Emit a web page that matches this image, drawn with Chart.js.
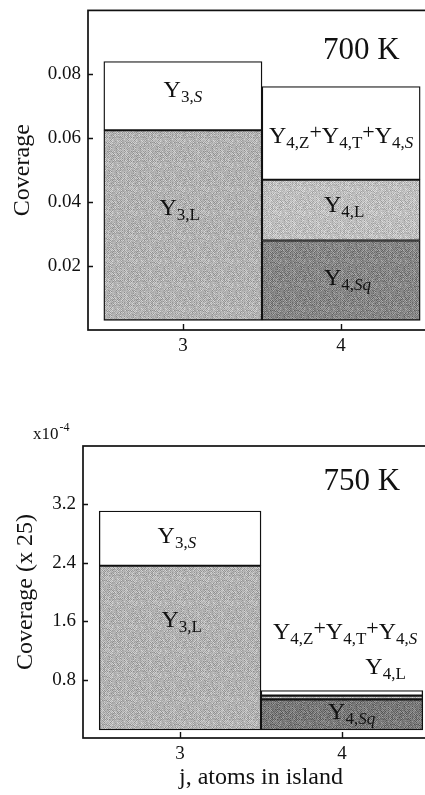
<!DOCTYPE html>
<html>
<head>
<meta charset="utf-8">
<script src="https://cdn.jsdelivr.net/npm/chart.js@4/dist/chart.umd.min.js"></script>
<style>
  html, body { margin: 0; padding: 0; background: #fff; width: 425px; height: 795px; overflow: hidden; }
  .panel { position: absolute; left: 0; width: 445px; }
  #p700 { top: 0; height: 378px; }
  #p750 { top: 390px; height: 405px; }
</style>
</head>
<body>
<div class="panel" id="p700"><canvas id="c700"></canvas></div>
<div class="panel" id="p750"><canvas id="c750"></canvas></div>
<script>
// island size j (atoms in island)
const atoms = [3, 4];

// y tick values and their printed labels
const yTicks700 = [0.02, 0.04, 0.06, 0.08];
const yLabels700 = ['0.02', '0.04', '0.06', '0.08'];
const yTicks750 = [0.8, 1.6, 2.4, 3.2];
const yLabels750 = ['0.8', '1.6', '2.4', '3.2'];

// 700 K: floor of the columns and the top of each stacked band
const base700 = 0.003;
const j3Tops700 = [0.0625, 0.084];          // Y3,L  Y3,S
const j4Tops700 = [0.028, 0.047, 0.0762];   // Y4,Sq  Y4,L  Y4,Z+Y4,T+Y4,S

// 750 K (coverage x 25, in units of 1e-4)
const base750 = 0.11;
const j3Tops750 = [2.36, 3.11];
const j4Tops750 = [0.53, 0.58, 0.65];

const SERIF = "'Liberation Serif', 'DejaVu Serif', serif";
const INK = '#111111';

// fine grainy fill, built from a fixed integer hash so it is the same every run
function grain(level, amp) {
  const n = 24;
  const c = document.createElement('canvas');
  c.width = n; c.height = n;
  const g = c.getContext('2d');
  const img = g.createImageData(n, n);
  for (let y = 0; y < n; y++) {
    for (let x = 0; x < n; x++) {
      let h = (x * 374761393 + y * 668265263) | 0;
      h = Math.imul(h ^ (h >>> 13), 1274126177);
      h = (h ^ (h >>> 16)) & 255;
      const checker = ((x + y) & 1) ? 1 : -1;
      const v = Math.max(0, Math.min(255, Math.round(level + (h / 255 - 0.5) * amp + checker * amp * 0.35)));
      const i = (y * n + x) * 4;
      img.data[i] = v; img.data[i + 1] = v; img.data[i + 2] = v; img.data[i + 3] = 255;
    }
  }
  g.putImageData(img, 0, 0);
  return g.createPattern(c, 'repeat');
}

const fillLight = grain(178, 46);
const fillLight4 = grain(190, 44);
const fillDark = grain(134, 50);
const fillDark750 = grain(120, 50);
const WHITE = '#ffffff';

function band(label, x, lo, hi, fill) {
  return {
    label,
    data: [{ x, y: [lo, hi] }],
    backgroundColor: fill,
    borderColor: INK,
    borderWidth: 1.4,
    borderSkipped: false,
    grouped: false,
    barPercentage: 1,
    categoryPercentage: 1
  };
}

function columns(base, j3, j4, dark, light4) {
  return [
    band('Y3,L', atoms[0], base, j3[0], fillLight),
    band('Y3,S', atoms[0], j3[0], j3[1], WHITE),
    band('Y4,Sq', atoms[1], base, j4[0], dark),
    band('Y4,L', atoms[1], j4[0], j4[1], light4),
    band('Y4,Z+Y4,T+Y4,S', atoms[1], j4[1], j4[2], WHITE)
  ];
}

// rich labels: Y with a two-part subscript
function Ysub(idx, kind) {
  return [
    { t: 'Y' },
    { t: idx + ',', sub: true },
    { t: kind, sub: true, it: /S/.test(kind) }
  ];
}
const plus = { t: '+', plus: true };
const yztsLabel = [].concat(Ysub('4', 'Z'), [plus], Ysub('4', 'T'), [plus], Ysub('4', 'S'));

function partFont(p) {
  if (p.sub) return (p.it ? 'italic ' : '') + '17px ' + SERIF;
  if (p.plus) return '22px ' + SERIF;
  return '24px ' + SERIF;
}

function drawRich(ctx, parts, x, y, align) {
  let w = 0;
  parts.forEach(p => { ctx.font = partFont(p); p.w = ctx.measureText(p.t).width; w += p.w; });
  let cx = align === 'right' ? x - w : x - w / 2;
  ctx.textAlign = 'left';
  ctx.textBaseline = 'alphabetic';
  parts.forEach(p => {
    ctx.font = partFont(p);
    const dy = p.sub ? 5 : (p.plus ? -4 : 0);
    ctx.fillText(p.t, cx, y + dy);
    cx += p.w;
  });
}

// frame round the plot, inward tick marks, band names and the temperature
const decor = {
  id: 'decor',
  afterDatasetsDraw(chart, args, opts) {
    const { ctx, chartArea: a, scales: { x, y } } = chart;
    ctx.save();
    ctx.strokeStyle = INK;
    ctx.lineWidth = 1.7;
    ctx.strokeRect(a.left, a.top, a.right - a.left, a.bottom - a.top);
    ctx.lineWidth = 1.4;
    ctx.beginPath();
    opts.yTicks.forEach(v => {
      const py = Math.round(y.getPixelForValue(v)) + 0.5;
      ctx.moveTo(a.left, py); ctx.lineTo(a.left + 5, py);
    });
    atoms.forEach(v => {
      const px = Math.round(x.getPixelForValue(v)) + 0.5;
      ctx.moveTo(px, a.bottom); ctx.lineTo(px, a.bottom - 6);
    });
    ctx.stroke();

    ctx.fillStyle = INK;
    opts.notes.forEach(n => {
      const px = x.getPixelForValue(n.x);
      const py = y.getPixelForValue(n.y);
      if (typeof n.text === 'string') {
        ctx.font = '31px ' + SERIF;
        ctx.textAlign = n.align || 'center';
        ctx.textBaseline = 'alphabetic';
        ctx.fillText(n.text, px, py);
      } else {
        drawRich(ctx, n.text.map(p => Object.assign({}, p)), px, py, n.align);
      }
    });

    if (opts.power) {
      ctx.textAlign = 'left';
      ctx.textBaseline = 'alphabetic';
      ctx.font = '17px ' + SERIF;
      const bx = a.left - 50, by = a.top - 7;
      ctx.fillText('x10', bx, by);
      const w = ctx.measureText('x10').width;
      ctx.font = '12px ' + SERIF;
      ctx.fillText('-4', bx + w + 1, by - 8);
    }
    ctx.restore();
  }
};

function makeChart(id, cfg) {
  return new Chart(document.getElementById(id), {
    type: 'bar',
    data: { datasets: cfg.datasets },
    options: {
      responsive: true,
      maintainAspectRatio: false,
      animation: false,
      events: [],
      layout: { padding: cfg.padding },
      plugins: {
        legend: { display: false },
        tooltip: { enabled: false },
        decor: { yTicks: cfg.yTicks, notes: cfg.notes, power: cfg.power }
      },
      scales: {
        x: {
          type: 'linear',
          offset: false,
          min: 2.4,
          max: 4.6,
          grid: { display: false },
          border: { display: false },
          afterBuildTicks: s => { s.ticks = atoms.map(v => ({ value: v })); },
          ticks: { font: { family: SERIF, size: 19 }, color: INK, padding: cfg.xPad, callback: v => String(v) },
          title: cfg.xTitle ? { display: true, text: cfg.xTitle, font: { family: SERIF, size: 24 }, color: INK, padding: { top: 0, bottom: 3 } } : { display: false },
          afterFit: s => { s.height = cfg.xHeight; }
        },
        y: {
          min: 0,
          max: cfg.yMax,
          grid: { display: false },
          border: { display: false },
          afterBuildTicks: s => { s.ticks = cfg.yTicks.map(v => ({ value: v })); },
          ticks: { font: { family: SERIF, size: 19 }, color: INK, padding: -1, callback: (v, i) => cfg.yLabels[i] },
          title: { display: true, text: cfg.yTitle, font: { family: SERIF, size: 24 }, color: INK, padding: { top: cfg.yTitlePad, bottom: 0 } },
          afterFit: s => { s.width = cfg.yWidth; }
        }
      }
    },
    plugins: [decor]
  });
}

makeChart('c700', {
  datasets: columns(base700, j3Tops700, j4Tops700, fillDark, fillLight4),
  yMax: 0.1,
  yTicks: yTicks700,
  yLabels: yLabels700,
  yTitle: 'Coverage',
  yTitlePad: 8,
  yWidth: 88,
  xHeight: 48,
  xPad: -3,
  padding: { top: 10, right: 9, left: 0, bottom: 0 },
  notes: [
    { x: 3.0, y: 0.0729, text: Ysub('3', 'S') },
    { x: 2.98, y: 0.0359, text: Ysub('3', 'L') },
    { x: 4.0, y: 0.0584, text: yztsLabel },
    { x: 4.02, y: 0.0369, text: Ysub('4', 'L') },
    { x: 4.04, y: 0.0141, text: Ysub('4', 'Sq') },
    { x: 4.37, y: 0.0849, text: '700 K', align: 'right' }
  ]
});

makeChart('c750', {
  datasets: columns(base750, j3Tops750, j4Tops750, fillDark750, fillLight),
  yMax: 4.0,
  yTicks: yTicks750,
  yLabels: yLabels750,
  yTitle: 'Coverage (x 25)',
  yTitlePad: 11,
  yWidth: 83,
  xHeight: 57,
  xPad: -3,
  xTitle: 'j, atoms in island',
  power: true,
  padding: { top: 56, right: 6, left: 0, bottom: 0 },
  notes: [
    { x: 2.98, y: 2.665, text: Ysub('3', 'S') },
    { x: 3.01, y: 1.52, text: Ysub('3', 'L') },
    { x: 4.02, y: 1.36, text: yztsLabel },
    { x: 4.27, y: 0.88, text: Ysub('4', 'L') },
    { x: 4.06, y: 0.265, text: Ysub('4', 'Sq') },
    { x: 4.36, y: 3.40, text: '750 K', align: 'right' }
  ]
});
</script>
</body>
</html>
